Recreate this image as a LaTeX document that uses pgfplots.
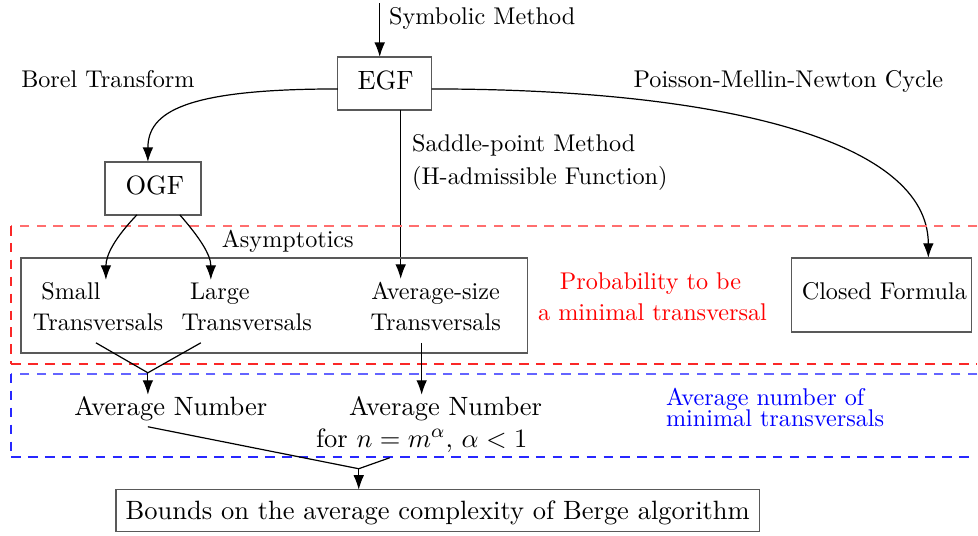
\documentclass[border=0pt]{standalone}
\usepackage{pgfplots}
\pgfplotsset{compat=1.18}
\usetikzlibrary{arrows.meta}
\definecolor{redlight}{RGB}{255,110,110}
\definecolor{reddark}{RGB}{250,40,40}
\definecolor{bluelight}{RGB}{100,100,255}
\definecolor{bluedark}{RGB}{40,40,255}
\begin{document}
\begin{tikzpicture}[
  lbl/.style={inner sep=0pt, text height=1.5ex, text depth=0.25ex, font=\normalsize},
  big/.style={inner sep=0pt, text height=1.5ex, text depth=0.25ex, font=\fontsize{10.95}{13}\selectfont},
  arr/.style={-{Latex[length=6pt,width=4.4pt]}, line width=0.5pt},
  box/.style={draw=black!65, line width=0.6pt},
  dsh/.style={dash pattern=on 4pt off 3pt, line width=0.6pt}]
\begin{axis}[scale only axis, width=404.1pt, height=221.5pt,
  xmin=0, xmax=978, ymin=0, ymax=536, y dir=reverse,
  axis lines=none, ticks=none, clip=false]
\path (axis cs:0,0) rectangle (axis cs:978,536);
% top
\draw[arr] (axis cs:380,3) -- (axis cs:380,57);
\node[lbl, anchor=west] at (axis cs:389,18) {Symbolic Method};
\draw[box] (axis cs:338,57) rectangle (axis cs:432,110);
\node[big] at (axis cs:386,83) {EGF};
\node[lbl] at (axis cs:108,81) {Borel Transform};
\node[lbl] at (axis cs:789,81) {Poisson-Mellin-Newton Cycle};
\draw[arr] (axis cs:338,89) .. controls (axis cs:185,89) and (axis cs:148,112) .. (axis cs:148,162);
\draw[arr] (axis cs:432,89) .. controls (axis cs:720,89) and (axis cs:929,140) .. (axis cs:929,258);
% saddle point
\draw[arr] (axis cs:401,110) -- (axis cs:401,279);
\node[lbl, anchor=west] at (axis cs:412,145) {Saddle-point Method};
\node[lbl, anchor=west] at (axis cs:412,178) {(H-admissible Function)};
% OGF
\draw[box] (axis cs:105,162) rectangle (axis cs:201,215);
\node[big] at (axis cs:155,188) {OGF};
% dashed regions
\draw[dsh, draw=redlight] (axis cs:978,226) -- (axis cs:11,226);
\draw[dsh, draw=reddark] (axis cs:11,226) -- (axis cs:11,364);
\draw[dsh, draw=reddark] (axis cs:11,364) -- (axis cs:978,364);
\draw[dsh, draw=bluelight] (axis cs:978,374) -- (axis cs:11,374);
\draw[dsh, draw=bluedark] (axis cs:11,374) -- (axis cs:11,457.5);
\draw[dsh, draw=bluedark, line width=0.7pt] (axis cs:11,457.5) -- (axis cs:976,457.5);
% asymptotics
\node[lbl] at (axis cs:288,241) {Asymptotics};
\draw[box] (axis cs:21,258) rectangle (axis cs:528,353);
\draw[arr] (axis cs:137,215) .. controls (axis cs:115,238) and (axis cs:106,255) .. (axis cs:106,280);
\draw[arr] (axis cs:180,215) .. controls (axis cs:200,238) and (axis cs:211,255) .. (axis cs:211,280);
\node[lbl] at (axis cs:71,293) {Small};
\node[lbl] at (axis cs:98,324) {Transversals};
\node[lbl] at (axis cs:220,293) {Large};
\node[lbl] at (axis cs:247,324) {Transversals};
\node[lbl] at (axis cs:436,293) {Average-size};
\node[lbl] at (axis cs:436,324) {Transversals};
% to average numbers
\draw[line width=0.5pt] (axis cs:96,343) -- (axis cs:148,373) -- (axis cs:201,343);
\draw[arr] (axis cs:148,373) -- (axis cs:148,395);
\draw[arr] (axis cs:422,343) -- (axis cs:422,395);
\node[big] at (axis cs:171,409) {Average Number};
\node[big] at (axis cs:446,409) {Average Number};
\node[big] at (axis cs:422,441) {for $n = m^{\alpha}$, $\alpha < 1$};
% red text
\node[lbl, text=red] at (axis cs:651,283) {Probability to be};
\node[lbl, text=red] at (axis cs:653,314) {a minimal transversal};
% closed formula
\draw[box] (axis cs:792,258) rectangle (axis cs:972,332);
\node[lbl] at (axis cs:885,293) {Closed Formula};
% blue text
\node[lbl, text=blue, anchor=west] at (axis cs:666,399) {Average number of};
\node[lbl, text=blue, anchor=west] at (axis cs:666,420) {minimal transversals};
% bottom
\draw[line width=0.5pt] (axis cs:148,427) -- (axis cs:359,469) -- (axis cs:390,458);
\draw[arr] (axis cs:359,469) -- (axis cs:359,490);
\draw[box] (axis cs:116,490) rectangle (axis cs:760,532);
\node[big] at (axis cs:438,513) {Bounds on the average complexity of Berge algorithm};
\end{axis}
\end{tikzpicture}
\end{document}
